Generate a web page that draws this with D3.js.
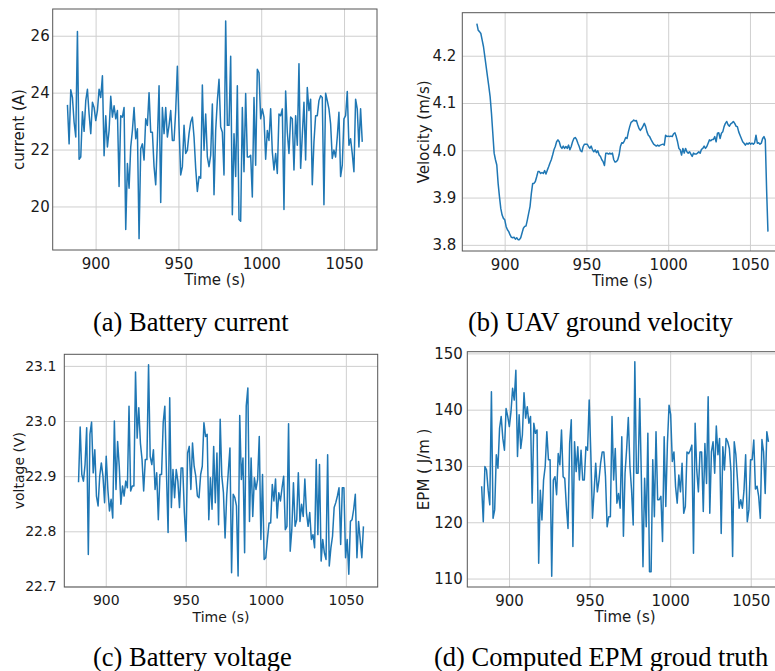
<!DOCTYPE html>
<html>
<head>
<meta charset="utf-8">
<script src="https://cdn.jsdelivr.net/npm/d3@7/dist/d3.min.js"></script>
<style>
  body { margin: 0; background: #fff; }
  svg { display: block; }
</style>
</head>
<body>
<div class="figure"></div>
<script>
// samples (1 Hz log, 883 s .. 1061 s)
const timeSpan = [883, 1061]
const timeDomain = [874.1, 1069.9]
const timeTicks = [900, 950, 1000, 1050]

const currentValues = [
  23.57, 22.2, 24.1, 23.83, 22.96, 22.44, 26.15, 21.66, 21.74, 23.33, 22.64, 23.72, 24.12, 23.25, 22.56, 23.66,
  23.48, 23.02, 23.37, 24.12, 23.83, 24.59, 21.78, 23.19, 22.09, 22.67, 23.87, 23.14, 23.54, 23.08, 23.37, 20.7,
  23.19, 23.14, 23.48, 19.19, 21.51, 20.64, 22.09, 22.67, 23.48, 22.38, 22.73, 18.87, 22.03, 22.2, 21.63, 23.08,
  22.85, 24.0, 22.61, 22.61, 21.4, 20.76, 22.32, 24.24, 20.14, 23.48, 22.56, 23.48, 22.44, 22.85, 23.37, 22.32,
  22.32, 23.37, 24.93, 22.79, 21.11, 21.4, 22.85, 21.86, 21.98, 22.56, 22.96, 23.14, 22.44, 21.34, 20.53, 21.05,
  20.99, 24.27, 21.98, 23.25, 21.74, 21.4, 21.8, 23.6, 20.41, 22.67, 23.72, 24.47, 22.79, 22.61, 21.11, 26.52,
  22.85, 22.85, 25.28, 19.71, 22.56, 21.05, 24.24, 19.54, 19.48, 23.48, 21.22, 23.97, 21.74, 21.74, 21.8, 20.33,
  23.83, 21.45, 24.82, 24.7, 23.08, 23.43, 23.14, 21.66, 22.67, 22.32, 23.43, 21.92, 21.28, 21.86, 21.16, 23.25,
  23.19, 23.43, 19.89, 24.06, 22.61, 21.86, 23.14, 23.08, 21.28, 23.19, 22.15, 25.02, 21.34, 22.5, 23.66, 21.63,
  24.18, 23.37, 23.77, 20.76, 22.27, 23.19, 23.19, 23.72, 23.89, 23.83, 20.06, 23.98, 23.72, 23.43, 22.9, 21.69,
  21.98, 21.74, 22.44, 23.31, 21.05, 21.45, 23.08, 23.19, 24.04, 22.15, 22.38, 21.86, 21.22, 23.77, 23.43, 22.09,
  23.43, 22.27
]

const velocityValues = [
  4.268, 4.254, 4.251, 4.247, 4.233, 4.219, 4.198, 4.177, 4.156, 4.135, 4.113, 4.078, 4.036, 3.994, 3.98, 3.969,
  3.93, 3.902, 3.877, 3.863, 3.856, 3.853, 3.839, 3.832, 3.828, 3.821, 3.816, 3.815, 3.816, 3.812, 3.815, 3.811,
  3.811, 3.815, 3.825, 3.835, 3.839, 3.84, 3.853, 3.867, 3.881, 3.909, 3.93, 3.93, 3.934, 3.944, 3.955, 3.955,
  3.951, 3.953, 3.951, 3.957, 3.95, 3.958, 3.965, 3.973, 3.98, 3.99, 4.001, 4.008, 4.018, 4.022, 4.018, 4.008,
  4.004, 4.009, 4.004, 4.008, 4.004, 4.011, 4.001, 4.008, 4.018, 4.025, 4.027, 4.023, 4.015, 4.008, 3.999, 3.997,
  4.008, 4.013, 4.013, 4.013, 4.008, 4.004, 4.009, 4.001, 3.997, 4.001, 3.995, 3.999, 3.99, 3.987, 3.98, 3.976,
  3.968, 3.994, 3.994, 3.992, 3.994, 3.992, 3.994, 3.98, 3.975, 3.976, 3.98, 3.99, 4.008, 4.016, 4.015, 4.02,
  4.027, 4.025, 4.039, 4.05, 4.059, 4.061, 4.064, 4.062, 4.063, 4.054, 4.046, 4.042, 4.046, 4.051, 4.057, 4.05,
  4.039, 4.032, 4.029, 4.023, 4.018, 4.013, 4.011, 4.009, 4.011, 4.009, 4.011, 4.012, 4.013, 4.011, 4.032, 4.029,
  4.03, 4.029, 4.03, 4.029, 4.035, 4.037, 4.029, 4.018, 4.004, 4.001, 3.99, 4.004, 3.994, 4.004, 3.997, 3.994,
  3.997, 3.992, 3.987, 3.994, 3.992, 3.992, 3.994, 3.997, 3.994, 4.002, 4.004, 4.009, 4.004, 4.008, 4.015, 4.022,
  4.02, 4.023, 4.023, 4.029, 4.018, 4.036, 4.037, 4.025, 4.036, 4.039, 4.05, 4.057, 4.061, 4.054, 4.051, 4.056,
  4.058, 4.061, 4.057, 4.051, 4.05, 4.039, 4.032, 4.025, 4.018, 4.015, 4.011, 4.015, 4.013, 4.016, 4.013, 4.015,
  4.013, 4.016, 4.032, 4.015, 4.016, 4.013, 4.015, 4.025, 4.029, 4.022, 3.916, 3.828
]

const voltageValues = [
  22.889, 22.989, 22.903, 22.891, 22.921, 22.988, 22.758, 22.976, 22.998, 22.906, 22.948, 22.864, 22.846, 22.9,
  22.924, 22.9, 22.852, 22.936, 22.876, 22.837, 22.858, 22.824, 23.0, 22.876, 22.963, 22.918, 22.849, 22.882,
  22.864, 22.891, 22.879, 23.027, 22.873, 22.882, 22.882, 23.089, 22.969, 23.024, 22.96, 22.93, 22.873, 22.93,
  22.93, 23.102, 22.936, 22.921, 22.948, 22.876, 22.906, 22.821, 22.903, 22.903, 22.997, 23.027, 22.906, 22.798,
  23.042, 22.843, 22.912, 22.861, 22.912, 22.891, 22.843, 22.915, 22.915, 22.834, 22.782, 22.942, 22.954, 22.876,
  22.96, 22.918, 22.9, 22.864, 22.861, 22.903, 22.918, 22.997, 22.972, 22.976, 22.821, 22.897, 22.84, 22.954,
  22.852, 22.942, 22.812, 23.003, 22.9, 22.87, 22.788, 22.864, 22.909, 22.951, 22.725, 22.867, 22.861, 22.846,
  22.719, 23.01, 22.894, 22.933, 22.761, 23.027, 23.06, 22.818, 22.933, 22.827, 22.897, 22.876, 22.894, 22.972,
  22.785, 22.903, 22.749, 22.752, 22.785, 22.815, 22.815, 22.885, 22.855, 22.895, 22.824, 22.87, 22.855, 22.879,
  22.9, 22.803, 22.809, 22.995, 22.764, 22.803, 22.888, 22.809, 22.821, 22.906, 22.818, 22.849, 22.827, 22.895,
  22.834, 22.809, 22.834, 22.785, 22.794, 22.77, 22.93, 22.794, 22.921, 22.746, 22.785, 22.761, 22.749, 22.939,
  22.737, 22.77, 22.791, 22.843, 22.852, 22.864, 22.879, 22.776, 22.879, 22.879, 22.752, 22.785, 22.722, 22.818,
  22.821, 22.84, 22.867, 22.752, 22.818, 22.785, 22.752, 22.809
]

const epmValues = [
  126.4, 120.1, 129.9, 129.3, 125.7, 123.1, 143.2, 120.7, 122.2, 132.0, 129.6, 136.7, 138.8, 134.9, 132.8, 140.2,
  138.8, 137.0, 139.6, 143.8, 141.7, 147.0, 131.7, 139.1, 133.1, 135.5, 143.0, 138.5, 140.5, 137.6, 138.8, 123.4,
  137.6, 135.8, 136.4, 112.7, 125.7, 120.4, 127.5, 129.9, 136.1, 131.1, 131.1, 110.4, 127.5, 128.1, 124.9, 132.2,
  130.2, 136.4, 128.1, 127.8, 122.8, 118.9, 134.0, 138.2, 115.7, 134.3, 129.0, 133.4, 127.5, 132.8, 127.5, 127.5,
  133.4, 132.8, 141.7, 132.2, 120.7, 125.4, 130.5, 125.4, 127.5, 130.5, 132.5, 132.5, 128.1, 119.2, 121.0, 121.0,
  138.8, 127.5, 133.1, 123.4, 125.1, 122.5, 135.2, 117.5, 128.7, 133.1, 138.6, 129.9, 125.7, 119.5, 148.5, 128.7,
  128.7, 142.0, 128.1, 112.1, 127.8, 119.2, 135.8, 111.2, 111.2, 131.1, 121.0, 136.1, 124.0, 124.0, 124.6, 116.6,
  135.2, 122.8, 134.0, 140.8, 139.1, 130.8, 132.5, 126.3, 123.4, 128.4, 125.4, 130.5, 121.6, 122.8, 132.5, 132.2,
  132.8, 133.7, 114.5, 137.6, 129.3, 125.4, 132.5, 132.5, 121.9, 134.0, 126.9, 142.3, 121.6, 132.5, 134.3, 128.7,
  137.1, 132.0, 134.9, 118.0, 133.4, 129.3, 134.9, 134.3, 133.1, 129.0, 113.9, 134.3, 132.0, 127.5, 122.5, 124.0,
  122.5, 125.7, 132.0, 120.1, 122.2, 131.1, 131.1, 134.6, 125.9, 126.4, 124.6, 120.7, 134.7, 132.5, 125.1, 136.1,
  134.3
]

const currentTicks = [20, 22, 24, 26]
const velocityTicks = [3.8, 3.9, 4.0, 4.1, 4.2]
const voltageTicks = [22.7, 22.8, 22.9, 23.0, 23.1]
const epmTicks = [110, 120, 130, 140, 150]

const yLabels = ['current (A)', 'Velocity (m/s)', 'voltage (V)', 'EPM ( J/m )']
const captions = ['(a) Battery current', '(b) UAV ground velocity', '(c) Battery voltage', '(d) Computed EPM groud truth']

const width = 775
const height = 671
const lineColor = '#1f77b4'

const panels = [
  { values: currentValues, ticks: currentTicks, yDomain: [18.47, 26.94], fmt: d3.format('d'),
    label: yLabels[0], box: { left: 52.7, top: 9, right: 377, bottom: 250 },
    font: 15, labelX: 19, tickGap: 3, caption: captions[0], capX: 93, capY: 331 },
  { values: velocityValues, ticks: velocityTicks, yDomain: [3.787, 4.291], fmt: d3.format('.1f'),
    label: yLabels[1], box: { left: 462.3, top: 12.7, right: 782.5, bottom: 251 },
    font: 15, labelX: 423.5, tickGap: 6, caption: captions[1], capX: 468, capY: 331 },
  { values: voltageValues, ticks: voltageTicks, yDomain: [22.699, 23.121], fmt: d3.format('.1f'),
    label: yLabels[2], box: { left: 64.3, top: 354.3, right: 377.7, bottom: 587 },
    font: 14, labelX: 19, tickGap: 8, caption: captions[2], capX: 93, capY: 666 },
  { values: epmValues, ticks: epmTicks, yDomain: [108.5, 150.3], fmt: d3.format('d'),
    label: yLabels[3], box: { left: 467.3, top: 351.7, right: 782.8, bottom: 587 },
    font: 15, labelX: 423.5, tickGap: 4.5, caption: captions[3], capX: 434, capY: 666 },
]

const svg = d3.select('.figure')
  .append('svg')
  .attr('width', width)
  .attr('height', height)
  .style('font-family', '"DejaVu Sans", sans-serif')

const drawPanel = (p) => {
  const b = p.box
  const x = d3.scaleLinear().domain(timeDomain).range([b.left, b.right])
  const y = d3.scaleLinear().domain(p.yDomain).range([b.bottom, b.top])
  const sampleTime = d3.scaleLinear().domain([0, p.values.length - 1]).range(timeSpan)

  const g = svg.append('g')

  // grid
  g.append('g')
    .attr('transform', `translate(0,${b.bottom})`)
    .call(d3.axisBottom(x).tickValues(timeTicks).tickSize(-(b.bottom - b.top)).tickFormat(''))
    .call((a) => a.select('.domain').remove())
    .selectAll('line').attr('stroke', '#cfcfcf').attr('stroke-width', 1)
  g.append('g')
    .attr('transform', `translate(${b.left},0)`)
    .call(d3.axisLeft(y).tickValues(p.ticks).tickSize(-(b.right - b.left)).tickFormat(''))
    .call((a) => a.select('.domain').remove())
    .selectAll('line').attr('stroke', '#cfcfcf').attr('stroke-width', 1)

  // tick labels
  const xAxis = g.append('g')
    .attr('transform', `translate(0,${b.bottom})`)
    .call(d3.axisBottom(x).tickValues(timeTicks).tickSize(0).tickPadding(8).tickFormat(d3.format('d')))
  xAxis.select('.domain').remove()
  xAxis.selectAll('text').attr('font-size', p.font).attr('fill', '#1a1a1a')
    .attr('font-family', '"DejaVu Sans", sans-serif')

  const yAxis = g.append('g')
    .attr('transform', `translate(${b.left},0)`)
    .call(d3.axisLeft(y).tickValues(p.ticks).tickSize(0).tickPadding(p.tickGap).tickFormat(p.fmt))
  yAxis.select('.domain').remove()
  yAxis.selectAll('text').attr('font-size', p.font).attr('fill', '#1a1a1a')
    .attr('font-family', '"DejaVu Sans", sans-serif')

  // series
  const line = d3.line()
    .x((d, i) => x(sampleTime(i)))
    .y((d) => y(d))
  g.append('path')
    .datum(p.values)
    .attr('fill', 'none')
    .attr('stroke', lineColor)
    .attr('stroke-width', 1.5)
    .attr('stroke-linejoin', 'round')
    .attr('d', line)

  // frame
  g.append('rect')
    .attr('x', b.left)
    .attr('y', b.top)
    .attr('width', b.right - b.left)
    .attr('height', b.bottom - b.top)
    .attr('fill', 'none')
    .attr('stroke', '#555')
    .attr('stroke-width', 1)

  // axis labels
  g.append('text')
    .text('Time (s)')
    .attr('x', (b.left + b.right) / 2)
    .attr('y', b.bottom + 35)
    .attr('text-anchor', 'middle')
    .attr('font-size', p.font)
    .attr('fill', '#1a1a1a')
  g.append('text')
    .text(p.label)
    .attr('transform', `translate(${p.labelX},${(b.top + b.bottom) / 2}) rotate(-90)`)
    .attr('dy', '0.35em')
    .attr('text-anchor', 'middle')
    .attr('font-size', p.font)
    .attr('fill', '#1a1a1a')

  // caption
  svg.append('text')
    .text(p.caption)
    .attr('x', p.capX)
    .attr('y', p.capY)
    .attr('font-family', '"Liberation Serif", "Times New Roman", serif')
    .attr('font-size', 26.5)
    .attr('fill', '#000')
}

panels.forEach(drawPanel)
</script>
</body>
</html>
